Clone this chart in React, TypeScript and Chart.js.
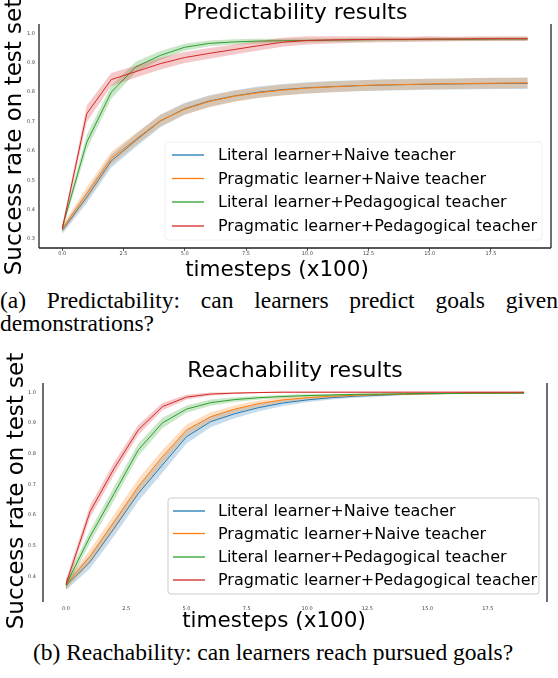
import React, { useEffect, useRef } from "react";
import { Chart, registerables } from "chart.js";

Chart.register(...registerables);

// ---------- data ----------
const steps = [0, 1, 2, 3, 4, 5, 6, 7, 8, 9, 10, 11, 12, 13, 14, 15, 16, 17, 18, 19];
const seriesNames = [
  "Literal learner+Naive teacher",
  "Pragmatic learner+Naive teacher",
  "Literal learner+Pedagogical teacher",
  "Pragmatic learner+Pedagogical teacher",
];
const seriesColors = ["#1f77b4", "#ff7f0e", "#2ca02c", "#d62728"];
const xTicks = [0, 2.5, 5, 7.5, 10, 12.5, 15, 17.5];
const predYTicks = [0.3, 0.4, 0.5, 0.6, 0.7, 0.8, 0.9, 1.0];
const reachYTicks = [0.4, 0.5, 0.6, 0.7, 0.8, 0.9, 1.0];

// Predictability
const predLitNaive = [0.33, 0.443, 0.566, 0.636, 0.702, 0.744, 0.77, 0.787, 0.8, 0.809, 0.815, 0.819, 0.822, 0.824, 0.826, 0.827, 0.828, 0.829, 0.83, 0.83];
const predPragNaive = [0.335, 0.455, 0.575, 0.64, 0.703, 0.742, 0.768, 0.786, 0.798, 0.807, 0.814, 0.818, 0.822, 0.825, 0.826, 0.828, 0.829, 0.83, 0.831, 0.832];
const predLitPed = [0.34, 0.63, 0.8, 0.886, 0.925, 0.953, 0.966, 0.971, 0.974, 0.975, 0.976, 0.977, 0.978, 0.979, 0.979, 0.98, 0.98, 0.98, 0.981, 0.981];
const predPragPed = [0.335, 0.727, 0.843, 0.87, 0.897, 0.918, 0.932, 0.945, 0.958, 0.97, 0.976, 0.978, 0.979, 0.98, 0.98, 0.981, 0.981, 0.982, 0.982, 0.982];
const predLitNaiveErr = [0.012, 0.02, 0.022, 0.022, 0.021, 0.02, 0.02, 0.019, 0.019, 0.019, 0.019, 0.019, 0.019, 0.019, 0.019, 0.019, 0.019, 0.019, 0.019, 0.019];
const predPragNaiveErr = [0.012, 0.022, 0.022, 0.02, 0.02, 0.019, 0.019, 0.019, 0.018, 0.018, 0.018, 0.018, 0.018, 0.018, 0.018, 0.018, 0.018, 0.018, 0.018, 0.018];
const predLitPedErr = [0.012, 0.025, 0.022, 0.018, 0.015, 0.012, 0.01, 0.009, 0.008, 0.007, 0.007, 0.006, 0.006, 0.006, 0.006, 0.006, 0.006, 0.006, 0.006, 0.006];
const predPragPedErr = [0.012, 0.028, 0.022, 0.02, 0.02, 0.019, 0.018, 0.017, 0.016, 0.015, 0.014, 0.012, 0.011, 0.01, 0.009, 0.009, 0.008, 0.008, 0.008, 0.008];

// Reachability
const reachLitNaive = [0.37, 0.448, 0.557, 0.67, 0.763, 0.855, 0.904, 0.93, 0.95, 0.965, 0.975, 0.982, 0.987, 0.99, 0.993, 0.995, 0.996, 0.997, 0.998, 0.998];
const reachPragNaive = [0.373, 0.465, 0.578, 0.693, 0.79, 0.877, 0.92, 0.945, 0.963, 0.975, 0.982, 0.987, 0.99, 0.992, 0.994, 0.995, 0.996, 0.997, 0.997, 0.998];
const reachLitPed = [0.373, 0.53, 0.67, 0.812, 0.9, 0.945, 0.966, 0.976, 0.982, 0.986, 0.989, 0.991, 0.993, 0.994, 0.995, 0.996, 0.996, 0.997, 0.997, 0.997];
const reachPragPed = [0.375, 0.611, 0.752, 0.877, 0.953, 0.984, 0.994, 0.997, 0.999, 1.0, 1.0, 1.0, 1.0, 1.0, 1.0, 1.0, 1.0, 1.0, 1.0, 1.0];
const reachLitNaiveErr = [0.015, 0.022, 0.025, 0.025, 0.025, 0.022, 0.018, 0.015, 0.012, 0.01, 0.008, 0.006, 0.005, 0.004, 0.003, 0.003, 0.003, 0.002, 0.002, 0.002];
const reachPragNaiveErr = [0.015, 0.022, 0.025, 0.025, 0.022, 0.018, 0.015, 0.012, 0.01, 0.008, 0.006, 0.005, 0.004, 0.003, 0.003, 0.003, 0.002, 0.002, 0.002, 0.002];
const reachLitPedErr = [0.015, 0.02, 0.022, 0.02, 0.017, 0.012, 0.01, 0.008, 0.006, 0.005, 0.004, 0.003, 0.003, 0.002, 0.002, 0.002, 0.002, 0.002, 0.002, 0.002];
const reachPragPedErr = [0.015, 0.02, 0.02, 0.016, 0.012, 0.008, 0.005, 0.003, 0.002, 0.002, 0.002, 0.002, 0.002, 0.002, 0.002, 0.002, 0.002, 0.002, 0.002, 0.002];

// ---------- helpers ----------
const FONT = "'DejaVu Sans', sans-serif";

function rgba(hex: string, a: number) {
  const n = parseInt(hex.slice(1), 16);
  return `rgba(${(n >> 16) & 255},${(n >> 8) & 255},${n & 255},${a})`;
}

function buildDatasets(means: number[][], errs: number[][]) {
  const ds: any[] = [];
  for (let i = means.length - 1; i >= 0; i--) {
    const c = seriesColors[i];
    ds.push({
      label: seriesNames[i],
      data: steps.map((x, k) => ({ x, y: means[i][k] })),
      borderColor: c,
      borderWidth: 1,
      pointRadius: 0,
      fill: false,
      tension: 0,
    });
    ds.push({
      label: "upper",
      data: steps.map((x, k) => ({ x, y: means[i][k] + errs[i][k] })),
      borderWidth: 0,
      borderColor: "rgba(0,0,0,0)",
      pointRadius: 0,
      fill: false,
    });
    ds.push({
      label: "lower",
      data: steps.map((x, k) => ({ x, y: means[i][k] - errs[i][k] })),
      borderWidth: 0,
      borderColor: "rgba(0,0,0,0)",
      pointRadius: 0,
      fill: "-1",
      backgroundColor: rgba(c, 0.25),
    });
  }
  return ds;
}

type Decor = {
  title: string;
  titleX: number;
  titleY: number;
  xLabelX: number;
  xLabelY: number;
  yLabelX: number;
  yLabelY: number;
  spines: { left: boolean; right: boolean; top: boolean; bottom: boolean };
  legend: { x0: number; y0: number; x1: number; y1: number; frame: string; lineX0: number; lineX1: number; textX: number; rows: number[] };
};

function decorPlugin(d: Decor) {
  return {
    id: "decor",
    afterDraw(chart: any) {
      const ctx = chart.ctx as CanvasRenderingContext2D;
      const a = chart.chartArea;
      ctx.save();
      // spines
      ctx.strokeStyle = "#222";
      ctx.lineWidth = 1.3;
      ctx.beginPath();
      if (d.spines.left) { ctx.moveTo(a.left, a.top); ctx.lineTo(a.left, a.bottom); }
      if (d.spines.right) { ctx.moveTo(a.right, a.top); ctx.lineTo(a.right, a.bottom); }
      if (d.spines.top) { ctx.moveTo(a.left, a.top); ctx.lineTo(a.right, a.top); }
      if (d.spines.bottom) { ctx.moveTo(a.left, a.bottom); ctx.lineTo(a.right, a.bottom); }
      ctx.stroke();

      // legend
      const L = d.legend;
      ctx.fillStyle = "rgba(255,255,255,0.85)";
      ctx.strokeStyle = L.frame;
      ctx.lineWidth = 1;
      ctx.beginPath();
      const r = 3;
      ctx.moveTo(L.x0 + r, L.y0);
      ctx.lineTo(L.x1 - r, L.y0);
      ctx.quadraticCurveTo(L.x1, L.y0, L.x1, L.y0 + r);
      ctx.lineTo(L.x1, L.y1 - r);
      ctx.quadraticCurveTo(L.x1, L.y1, L.x1 - r, L.y1);
      ctx.lineTo(L.x0 + r, L.y1);
      ctx.quadraticCurveTo(L.x0, L.y1, L.x0, L.y1 - r);
      ctx.lineTo(L.x0, L.y0 + r);
      ctx.quadraticCurveTo(L.x0, L.y0, L.x0 + r, L.y0);
      ctx.closePath();
      ctx.fill();
      ctx.stroke();
      ctx.font = `16px ${FONT}`;
      ctx.textBaseline = "middle";
      ctx.textAlign = "left";
      seriesNames.forEach((name, i) => {
        const y = L.rows[i];
        ctx.strokeStyle = seriesColors[i];
        ctx.lineWidth = 1.3;
        ctx.beginPath();
        ctx.moveTo(L.lineX0, y);
        ctx.lineTo(L.lineX1, y);
        ctx.stroke();
        ctx.fillStyle = "#000";
        ctx.fillText(name, L.textX, y + 1);
      });

      // title and axis labels
      ctx.fillStyle = "#000";
      ctx.textBaseline = "alphabetic";
      ctx.textAlign = "center";
      ctx.font = `22px ${FONT}`;
      ctx.fillText(d.title, d.titleX, d.titleY);
      ctx.font = `21.5px ${FONT}`;
      ctx.fillText("timesteps (x100)", d.xLabelX, d.xLabelY);
      ctx.save();
      ctx.translate(d.yLabelX, d.yLabelY);
      ctx.rotate(-Math.PI / 2);
      ctx.textBaseline = "middle";
      ctx.font = `23px ${FONT}`;
      ctx.fillText("Success rate on test set", 0, 0);
      ctx.restore();
      ctx.restore();
    },
  };
}

type PlotCfg = {
  means: number[][];
  errs: number[][];
  yMin: number;
  yMax: number;
  yTicks: number[];
  padding: { left: number; right: number; top: number; bottom: number };
  xTickMarks: boolean;
  xTickPad: number;
  yTickPad: number;
  decor: Decor;
};

function buildConfig(cfg: PlotCfg): any {
  const tickFont = { family: FONT, size: 5 };
  return {
    type: "line",
    data: { datasets: buildDatasets(cfg.means, cfg.errs) },
    options: {
      responsive: false,
      animation: false,
      events: [],
      layout: { padding: cfg.padding },
      plugins: {
        legend: { display: false },
        tooltip: { enabled: false },
        title: { display: false },
        filler: { propagate: false },
      },
      scales: {
        x: {
          type: "linear",
          min: -0.95,
          max: 19.95,
          afterBuildTicks: (s: any) => {
            s.ticks = xTicks.map((v) => ({ value: v }));
          },
          afterFit: (s: any) => {
            s.height = 15;
          },
          ticks: {
            callback: (v: any) => Number(v).toFixed(1),
            font: tickFont,
            color: "#444",
            padding: cfg.xTickPad,
            maxRotation: 0,
            autoSkip: false,
          },
          grid: cfg.xTickMarks
            ? { display: true, drawOnChartArea: false, drawTicks: true, tickLength: 3, color: "#333", lineWidth: 0.8 }
            : { display: false, drawTicks: false, tickLength: 0 },
          border: { display: false },
        },
        y: {
          type: "linear",
          min: cfg.yMin,
          max: cfg.yMax,
          afterBuildTicks: (s: any) => {
            s.ticks = cfg.yTicks.map((v) => ({ value: v }));
          },
          afterFit: (s: any) => {
            s.width = 20;
          },
          ticks: {
            callback: (v: any) => Number(v).toFixed(1),
            font: tickFont,
            color: "#444",
            padding: cfg.yTickPad,
            autoSkip: false,
          },
          grid: { display: false, drawTicks: false, tickLength: 0 },
          border: { display: false },
        },
      },
    },
    plugins: [decorPlugin(cfg.decor)],
  };
}

function PlotCanvas({ cfg, top, height }: { cfg: PlotCfg; top: number; height: number }) {
  const ref = useRef<HTMLCanvasElement>(null);
  useEffect(() => {
    const chart = new Chart(ref.current as HTMLCanvasElement, buildConfig(cfg));
    return () => chart.destroy();
  }, []);
  return (
    <canvas
      ref={ref}
      width={558}
      height={height}
      style={{ position: "absolute", left: 0, top, width: 558, height, display: "block" }}
    />
  );
}

const predCfg: PlotCfg = {
  means: [predLitNaive, predPragNaive, predLitPed, predPragPed],
  errs: [predLitNaiveErr, predPragNaiveErr, predLitPedErr, predPragPedErr],
  yMin: 0.27,
  yMax: 1.032,
  yTicks: predYTicks,
  padding: { left: 19, right: 7, top: 24, bottom: 22 },
  xTickMarks: true,
  xTickPad: 0,
  yTickPad: 4,
  decor: {
    title: "Predictability results",
    titleX: 295.5,
    titleY: 19,
    xLabelX: 277,
    xLabelY: 276,
    yLabelX: 15,
    yLabelY: 137,
    spines: { left: true, right: true, top: false, bottom: true },
    legend: { x0: 165, y0: 142, x1: 542, y1: 240, frame: "#efefef", lineX0: 172, lineX1: 204, textX: 218, rows: [155, 178.5, 202, 226] },
  },
};

const reachCfg: PlotCfg = {
  means: [reachLitNaive, reachPragNaive, reachLitPed, reachPragPed],
  errs: [reachLitNaiveErr, reachPragNaiveErr, reachLitPedErr, reachPragPedErr],
  yMin: 0.317,
  yMax: 1.03,
  yTicks: reachYTicks,
  padding: { left: 23, right: 11, top: 43, bottom: 18 },
  xTickMarks: false,
  xTickPad: 4,
  yTickPad: 7,
  decor: {
    title: "Reachability results",
    titleX: 295,
    titleY: 37,
    xLabelX: 274,
    xLabelY: 287,
    yLabelX: 17,
    yLabelY: 151,
    spines: { left: true, right: true, top: false, bottom: false },
    legend: { x0: 168, y0: 158, x1: 539, y1: 254, frame: "#cccccc", lineX0: 173, lineX1: 205, textX: 218, rows: [171, 193.5, 217, 240] },
  },
};

export default function App() {
  const caption: React.CSSProperties = {
    position: "absolute",
    left: 0,
    width: 558,
    fontFamily: "'Liberation Serif', 'Times New Roman', serif",
    fontSize: "23.5px",
    lineHeight: "23px",
    color: "#000",
    margin: 0,
  };
  return (
    <div style={{ position: "absolute", left: 0, top: 0, width: 558, height: 678, background: "#fff", overflow: "hidden" }}>
      <PlotCanvas cfg={predCfg} top={0} height={285} />
      <div style={{ ...caption, top: 288.6, textAlign: "justify" }}>
        (a) Predictability: can learners predict goals given demonstrations?
      </div>
      <PlotCanvas cfg={reachCfg} top={340} height={295} />
      <div style={{ ...caption, top: 640.6, width: 546, textAlign: "center" }}>
        (b) Reachability: can learners reach pursued goals?
      </div>
    </div>
  );
}
